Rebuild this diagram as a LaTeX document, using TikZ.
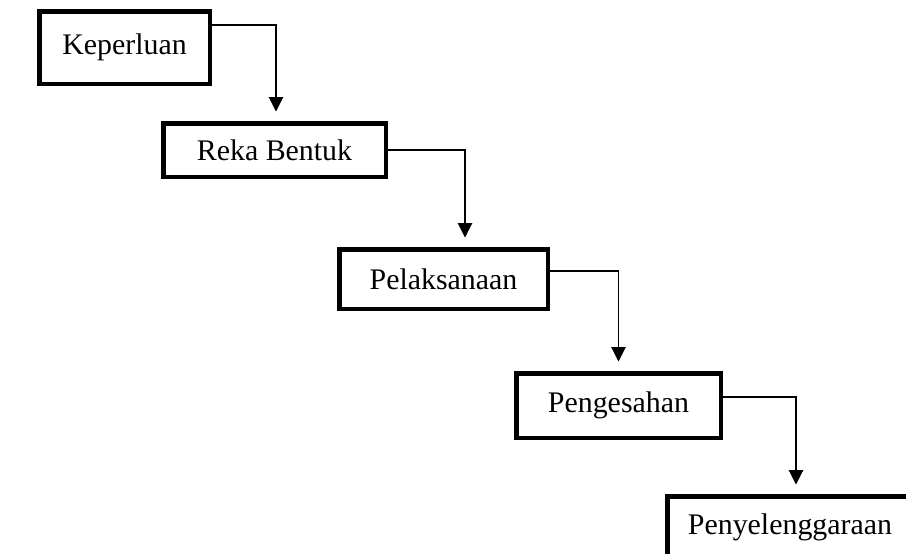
\documentclass[tikz,border=0pt]{standalone}
\usepackage{fontspec}
\setmainfont{Liberation Serif}
\usetikzlibrary{arrows.meta}
\usetikzlibrary{shapes}

\begin{document}
\begin{tikzpicture}

\tikzstyle{phase}=[rectangle, draw=black, line width=0.09cm, inner sep=0pt, font=\fontsize{17}{20}\selectfont]
\tikzstyle{connect}=[-{Triangle[width=0.29cm,length=0.29cm]}, line width=0.6pt, shorten >=0.19cm]

\clip (0,0) rectangle (18.12,-11.08);

\node[phase, minimum width=3.41cm, minimum height=1.45cm] (keperluan) at (2.49,-0.95) {Keperluan};
\node[phase, minimum width=4.45cm, minimum height=1.07cm] (reka) at (5.49,-3.0) {Reka Bentuk};
\node[phase, minimum width=4.17cm, minimum height=1.19cm] (pelaksanaan) at (8.87,-5.58) {Pelaksanaan};
\node[phase, minimum width=4.09cm, minimum height=1.29cm] (pengesahan) at (12.37,-8.11) {Pengesahan};
\node[phase, minimum width=4.91cm, minimum height=1.23cm] (penyelenggaraan) at (15.8,-10.54) {Penyelenggaraan};


\draw[connect] ([yshift=0.45cm]keperluan.east) -| ([xshift=0.03cm]reka.north);
\draw[connect] (reka.east) -| ([xshift=0.43cm]pelaksanaan.north);
\draw[connect] ([yshift=0.16cm]pelaksanaan.east) -| (pengesahan.north);
\draw[connect] ([yshift=0.17cm]pengesahan.east) -| ([xshift=0.12cm]penyelenggaraan.north);

\end{tikzpicture}
\end{document}
